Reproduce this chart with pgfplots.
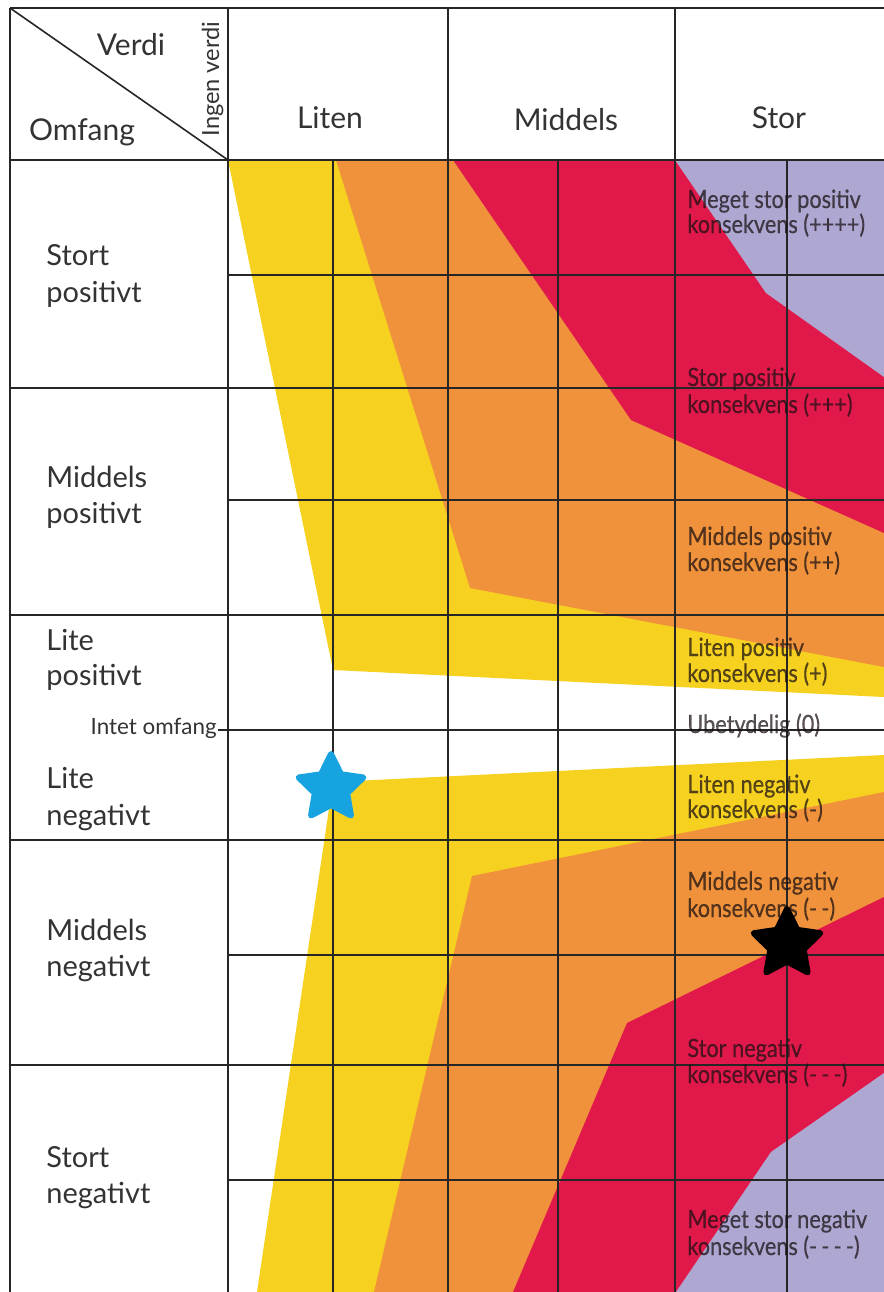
\documentclass[border=0pt]{standalone}
\usepackage{pgfplots}
\pgfplotsset{compat=1.18}
\usepackage{fontspec}
\setmainfont{Lato}
\newfontfamily\condfont[FakeStretch=0.86, FakeBold=0.4]{Lato}
\definecolor{cyel}{HTML}{F6D120}
\definecolor{cora}{HTML}{F0923B}
\definecolor{cred}{HTML}{E1194B}
\definecolor{clav}{HTML}{ADA7D1}
\definecolor{cblue}{HTML}{17A2E0}
\definecolor{cgrid}{HTML}{262626}
\definecolor{ctext}{HTML}{333333}
\definecolor{clab}{HTML}{1A1012}
\pgfdeclareplotmark{fstar}{%
  \pgfpathmoveto{\pgfpointpolar{90}{\pgfplotmarksize}}%
  \pgfpathlineto{\pgfpointpolar{126}{0.5\pgfplotmarksize}}%
  \pgfpathlineto{\pgfpointpolar{162}{\pgfplotmarksize}}%
  \pgfpathlineto{\pgfpointpolar{198}{0.5\pgfplotmarksize}}%
  \pgfpathlineto{\pgfpointpolar{234}{\pgfplotmarksize}}%
  \pgfpathlineto{\pgfpointpolar{270}{0.5\pgfplotmarksize}}%
  \pgfpathlineto{\pgfpointpolar{306}{\pgfplotmarksize}}%
  \pgfpathlineto{\pgfpointpolar{342}{0.5\pgfplotmarksize}}%
  \pgfpathlineto{\pgfpointpolar{18}{\pgfplotmarksize}}%
  \pgfpathlineto{\pgfpointpolar{54}{0.5\pgfplotmarksize}}%
  \pgfpathclose
  \pgfusepathqfillstroke
}
\tikzset{
  lbl/.style={anchor=base west, inner sep=0pt, text=ctext, font=\fontsize{14.5}{17}\selectfont},
  hdr/.style={anchor=base, inner sep=0pt, text=ctext, font=\fontsize{15}{17}\selectfont},
  rlb/.style={anchor=base west, inner sep=0pt, text=clab, text opacity=0.72, font=\condfont\fontsize{12.6}{14}\selectfont},
}
\begin{document}
\begin{tikzpicture}
\begin{axis}[scale only axis, width=442pt, height=646pt,
  xmin=0, xmax=884, ymin=0, ymax=1292, y dir=reverse,
  hide axis, clip=true]
% positive half
\addplot[fill=cyel, draw=none] coordinates {(228,160) (884,160) (884,697) (333,670)} -- cycle;
\addplot[fill=cora, draw=none] coordinates {(336,160) (884,160) (884,667) (470,588)} -- cycle;
\addplot[fill=cred, draw=none] coordinates {(453,160) (884,160) (884,533) (631,420)} -- cycle;
\addplot[fill=clav, draw=none] coordinates {(675,160) (884,160) (884,377) (766,293)} -- cycle;
% negative half
\addplot[fill=cyel, draw=none] coordinates {(333,782) (884,755) (884,1292) (257,1292)} -- cycle;
\addplot[fill=cora, draw=none] coordinates {(472,876) (884,792) (884,1292) (374,1292)} -- cycle;
\addplot[fill=cred, draw=none] coordinates {(627,1023) (884,897) (884,1292) (513,1292)} -- cycle;
\addplot[fill=clav, draw=none] coordinates {(884,1073) (771,1152) (676,1292) (884,1292)} -- cycle;
% grid
\begin{scope}[cgrid, line width=1pt]
\draw (10,8) -- (10,1292);
\draw (228,8) -- (228,1292);
\draw (448,8) -- (448,1292);
\draw (675,8) -- (675,1292);
\draw (333,160) -- (333,1292);
\draw (558,160) -- (558,1292);
\draw (787,160) -- (787,1292);
\draw (10,8) -- (884,8);
\draw (10,160) -- (884,160);
\draw (10,388) -- (884,388);
\draw (10,615) -- (884,615);
\draw (10,840) -- (884,840);
\draw (10,1065) -- (884,1065);
\draw (228,275) -- (884,275);
\draw (228,500) -- (884,500);
\draw (218,730) -- (884,730);
\draw (228,955) -- (884,955);
\draw (228,1180) -- (884,1180);
\draw[line width=0.8pt] (10,8) -- (228,160);
\end{scope}
% header
\node[hdr] at (131,55) {Verdi};
\node[hdr] at (82,140) {Omfang};
\node[hdr] at (330,128) {Liten};
\node[hdr] at (566,130) {Middels};
\node[hdr] at (779,128) {Stor};
\node[anchor=base, inner sep=0pt, text=ctext, rotate=90, font=\fontsize{11.8}{13}\selectfont] at (219,79) {Ingen verdi};
% left labels
\node[lbl] at (46,265) {Stort};
\node[lbl] at (46,302) {positivt};
\node[lbl] at (46,487) {Middels};
\node[lbl] at (46,523) {positivt};
\node[lbl] at (46,650) {Lite};
\node[lbl] at (46,685) {positivt};
\node[anchor=base east, inner sep=0pt, text=ctext, font=\fontsize{11.2}{13}\selectfont] at (217,734) {Intet omfang};
\node[lbl] at (46,788) {Lite};
\node[lbl] at (46,825) {negativt};
\node[lbl] at (46,940) {Middels};
\node[lbl] at (46,976) {negativt};
\node[lbl] at (46,1167) {Stort};
\node[lbl] at (46,1203) {negativt};
% right labels
\node[rlb] at (687,208) {Meget stor positiv};
\node[rlb] at (687,233) {konsekvens (++++)};
\node[rlb] at (687,386) {Stor positiv};
\node[rlb] at (687,413) {konsekvens (+++)};
\node[rlb] at (687,545) {Middels positiv};
\node[rlb] at (687,571) {konsekvens (++)};
\node[rlb] at (687,656) {Liten positiv};
\node[rlb] at (687,682) {konsekvens (+)};
\node[rlb] at (687,733) {Ubetydelig (0)};
\node[rlb] at (687,793) {Liten negativ};
\node[rlb] at (687,818) {konsekvens (-)};
\node[rlb] at (687,890) {Middels negativ};
\node[rlb] at (687,917) {konsekvens (-\,-)};
\node[rlb] at (687,1057) {Stor negativ};
\node[rlb] at (687,1083) {konsekvens (-\,-\,-)};
\node[rlb] at (687,1228) {Meget stor negativ};
\node[rlb] at (687,1255) {konsekvens (-\,-\,-\,-)};
% stars
\addplot[only marks, mark=fstar, mark size=17pt, color=cblue, line width=3pt, line join=round] coordinates {(331,788)};
\addplot[only marks, mark=fstar, mark size=17.5pt, color=black, line width=3pt, line join=round] coordinates {(787,944)};
\end{axis}
\path (current axis.south west) rectangle (current axis.north east);
\end{tikzpicture}
\end{document}
